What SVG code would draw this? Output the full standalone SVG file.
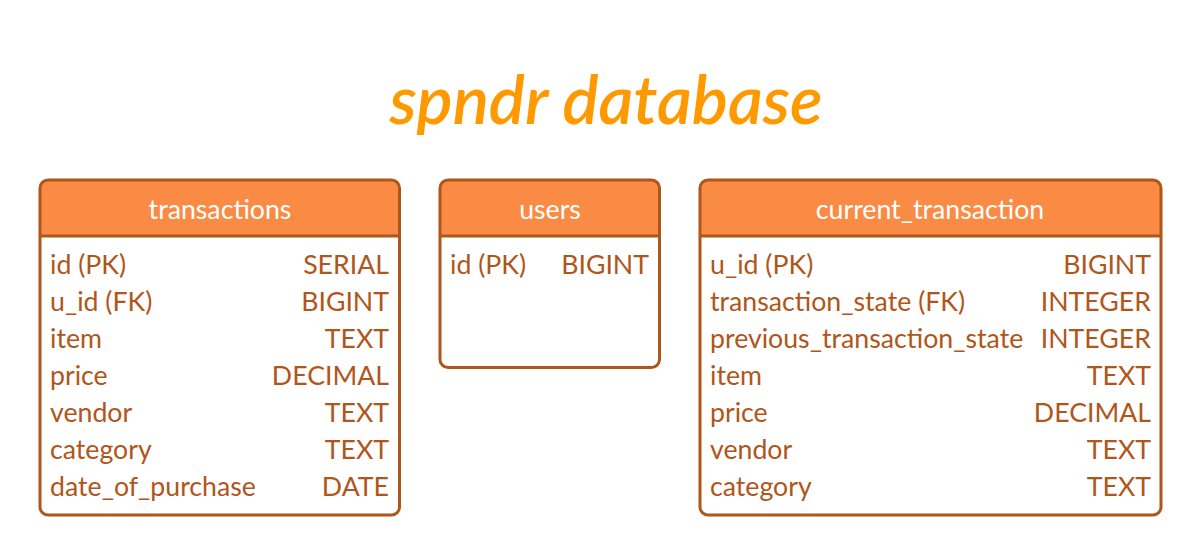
<svg xmlns="http://www.w3.org/2000/svg" width="1202" height="555" viewBox="0 0 1202 555">
<style>
.box{fill:none;stroke:#b0561b;stroke-width:3}
.hdr{fill:#f98b45}
.div{stroke:#b0561b;stroke-width:3}
.ht{font-family:Lato,"Liberation Sans",sans-serif;font-size:26.7px;fill:#ffffff;text-anchor:middle}
.f{font-family:Lato,"Liberation Sans",sans-serif;font-size:26.7px;fill:#b0561b}
.r{text-anchor:end}
.title{font-family:Lato,"Liberation Sans",sans-serif;font-size:67.5px;font-weight:600;font-style:italic;fill:#ff9900;text-anchor:middle}
</style>
<rect width="1202" height="555" fill="#ffffff"/>
<text class="title" x="606" y="124">spndr database</text>
<g id="transactions">
<path class="hdr" d="M40,236 V188 Q40,180 48,180 H391.5 Q399.5,180 399.5,188 V236 Z"/>
<rect class="box" x="40" y="180" width="359.5" height="335" rx="8"/>
<line class="div" x1="40" y1="236" x2="399.5" y2="236"/>
<text class="ht" x="220" y="218.5">transactions</text>
<text class="f" x="50" y="274">id (PK)</text><text class="f r" x="389" y="274">SERIAL</text>
<text class="f" x="50" y="311">u_id (FK)</text><text class="f r" x="389" y="311">BIGINT</text>
<text class="f" x="50" y="348">item</text><text class="f r" x="389" y="348">TEXT</text>
<text class="f" x="50" y="385">price</text><text class="f r" x="389" y="385">DECIMAL</text>
<text class="f" x="50" y="421.5">vendor</text><text class="f r" x="389" y="421.5">TEXT</text>
<text class="f" x="50" y="458.5">category</text><text class="f r" x="389" y="458.5">TEXT</text>
<text class="f" x="50" y="495.5">date_of_purchase</text><text class="f r" x="389" y="495.5">DATE</text>
</g>
<g id="users">
<path class="hdr" d="M440,236 V188 Q440,180 448,180 H651.5 Q659.5,180 659.5,188 V236 Z"/>
<rect class="box" x="440" y="180" width="219.5" height="187.5" rx="8"/>
<line class="div" x1="440" y1="236" x2="659.5" y2="236"/>
<text class="ht" x="550" y="218.5">users</text>
<text class="f" x="450" y="274">id (PK)</text><text class="f r" x="649" y="274">BIGINT</text>
</g>
<g id="current_transaction">
<path class="hdr" d="M700,236 V188 Q700,180 708,180 H1153 Q1161,180 1161,188 V236 Z"/>
<rect class="box" x="700" y="180" width="461" height="335" rx="8"/>
<line class="div" x1="700" y1="236" x2="1161" y2="236"/>
<text class="ht" x="930" y="218.5">current_transaction</text>
<text class="f" x="710" y="274">u_id (PK)</text><text class="f r" x="1151" y="274">BIGINT</text>
<text class="f" x="710" y="311">transaction_state (FK)</text><text class="f r" x="1151" y="311">INTEGER</text>
<text class="f" x="710" y="348">previous_transaction_state</text><text class="f r" x="1151" y="348">INTEGER</text>
<text class="f" x="710" y="385">item</text><text class="f r" x="1151" y="385">TEXT</text>
<text class="f" x="710" y="421.5">price</text><text class="f r" x="1151" y="421.5">DECIMAL</text>
<text class="f" x="710" y="458.5">vendor</text><text class="f r" x="1151" y="458.5">TEXT</text>
<text class="f" x="710" y="495.5">category</text><text class="f r" x="1151" y="495.5">TEXT</text>
</g>
<g id="connectors"></g>
</svg>
